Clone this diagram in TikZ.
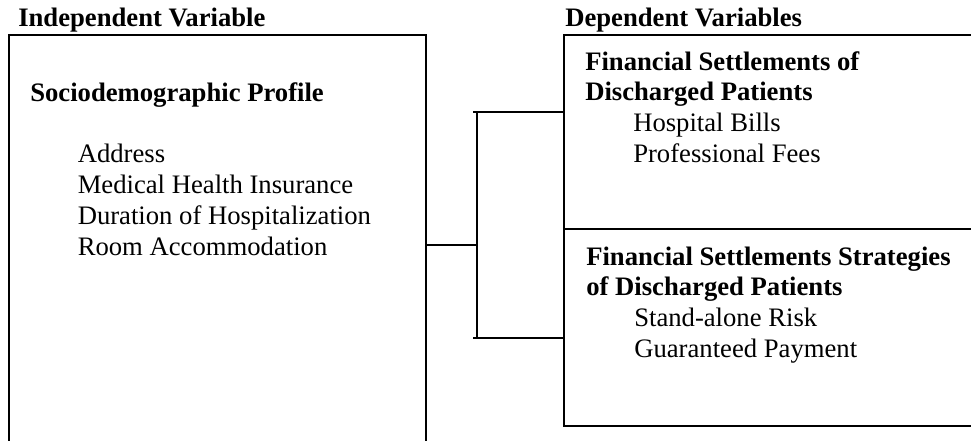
\documentclass[tikz,border=0pt]{standalone}
\usepackage{fontspec}
\setmainfont{Liberation Serif}
\begin{document}
\begin{tikzpicture}[x=0.75pt,y=-0.75pt,
  frame/.style={line width=1.5pt, line cap=rect},
  lbl/.style={anchor=base west, inner sep=0pt, font=\fontsize{20}{23}\selectfont},
  blbl/.style={anchor=base west, inner sep=0pt, font=\fontsize{20}{23}\selectfont\bfseries}]
\useasboundingbox (0,0) rectangle (971,440);
\clip (0,0) rectangle (971,440);

% headers
\node[blbl] (indep) at (18,26) {Independent Variable};
\node[blbl] (dep) at (565,26) {Dependent Variables};

% left box (open at the bottom, cropped)
\coordinate (lbl0) at (9,450);
\coordinate (ltl) at (9,35);
\coordinate (ltr) at (426,35);
\coordinate (lbr) at (426,450);
\draw[frame] (lbl0) -- (ltl) -- (ltr) -- (lbr);

% right boxes (cropped on the right)
\coordinate (rtl) at (564,35);
\coordinate (rtr) at (985,35);
\coordinate (rml) at (564,229);
\coordinate (rmr) at (985,229);
\coordinate (rbl) at (564,426);
\coordinate (rbr) at (985,426);
\draw[frame] (rtr) -- (rtl) -- (rbl) -- (rbr);
\draw[frame] (rml) -- (rmr);

% bracket connector
\coordinate (lmid) at (426,245);
\coordinate (bmid) at (476.5,245);
\coordinate (btop) at (476.5,112);
\coordinate (bbot) at (476.5,338);
\coordinate (btopl) at (473,112);
\coordinate (bbotl) at (473,338);
\coordinate (rtop) at (564,112);
\coordinate (rbot) at (564,338);
\draw[line width=1.5pt] (lmid) -- (bmid);
\draw[line width=1.5pt] (btop) -- (bbot);
\draw[line width=1.5pt] (btopl) -- (rtop);
\draw[line width=1.5pt] (bbotl) -- (rbot);

% left box text
\node[blbl] (socio) at (30,101) {Sociodemographic Profile};
\node[lbl] (addr) at (77.5,162) {Address};
\node[lbl] (med) at (77.5,193) {Medical Health Insurance};
\node[lbl] (dur) at (77.5,224) {Duration of Hospitalization};
\node[lbl] (room) at (77.5,255) {Room Accommodation};

% upper right text
\node[blbl] (fs1) at (585,70) {Financial Settlements of};
\node[blbl] (fs2) at (585,100) {Discharged Patients};
\node[lbl] (hb) at (633,131) {Hospital Bills};
\node[lbl] (pf) at (633,162) {Professional Fees};

% lower right text
\node[blbl] (fss1) at (586,265) {Financial Settlements Strategies};
\node[blbl] (fss2) at (586,295) {of Discharged Patients};
\node[lbl] (sar) at (634,326) {Stand-alone Risk};
\node[lbl] (gp) at (634,357) {Guaranteed Payment};
\end{tikzpicture}
\end{document}
